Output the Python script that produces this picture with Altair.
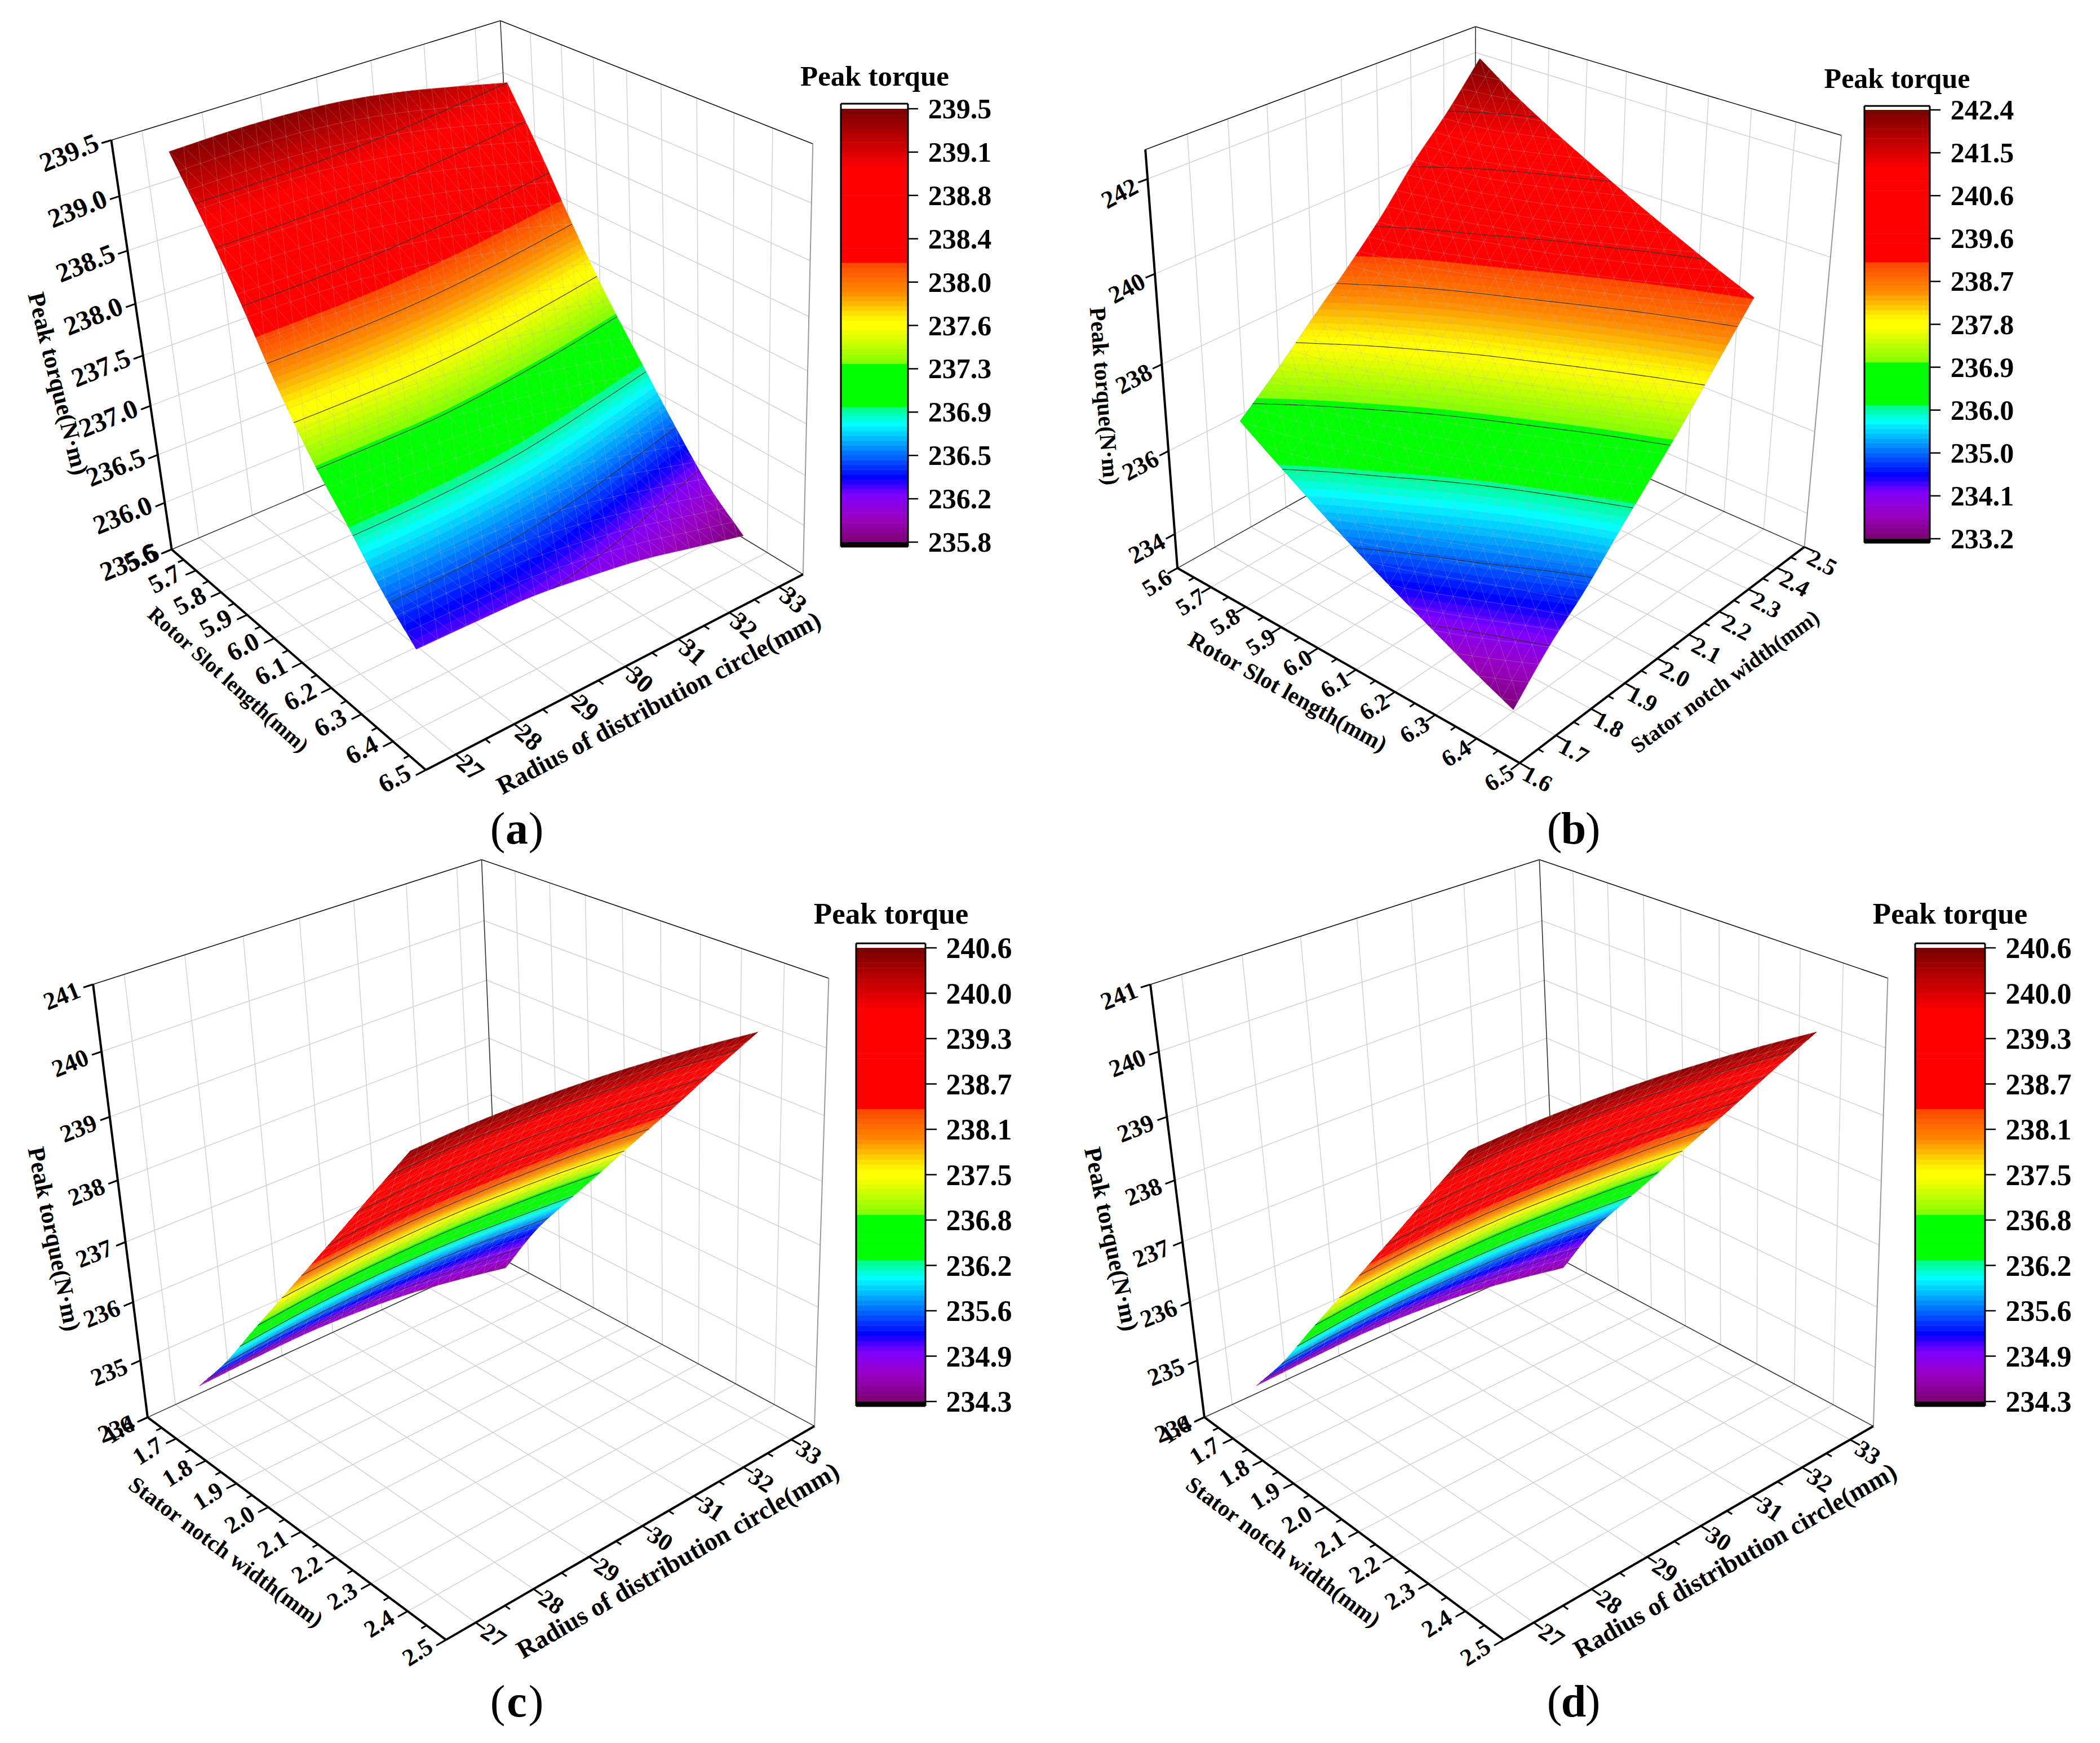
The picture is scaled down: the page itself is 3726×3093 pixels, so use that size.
import numpy as np
import pandas as pd
import altair as alt

alt.data_transformers.disable_max_rows()

# ---------- values ----------
U_SLOT = [5.7, 5.8, 5.9, 6.0, 6.1, 6.2, 6.3, 6.4]
U_NOTCH = [1.7, 1.8, 1.9, 2.0, 2.1, 2.2, 2.3, 2.4]
V_RADIUS = [27, 28, 29, 30, 31, 32, 33]
V_NOTCH = [1.7, 1.8, 1.9, 2.0, 2.1, 2.2, 2.3, 2.4]

Z_A = [
    [239.45, 239.46, 239.45, 239.41, 239.33, 239.22, 239.10],
    [238.98, 238.98, 238.96, 238.90, 238.81, 238.69, 238.56],
    [238.46, 238.45, 238.42, 238.35, 238.25, 238.12, 237.98],
    [237.88, 237.88, 237.86, 237.80, 237.70, 237.58, 237.45],
    [237.38, 237.38, 237.37, 237.31, 237.22, 237.11, 236.98],
    [236.99, 236.98, 236.95, 236.89, 236.79, 236.66, 236.52],
    [236.58, 236.57, 236.54, 236.47, 236.37, 236.24, 236.10],
    [236.25, 236.24, 236.22, 236.15, 236.06, 235.93, 235.80],
]
Z_B = [
    [236.65, 237.37, 238.15, 238.92, 239.74, 240.68, 241.48, 242.40],
    [236.08, 236.81, 237.57, 238.35, 239.16, 240.07, 240.88, 241.80],
    [235.53, 236.30, 237.05, 237.84, 238.65, 239.56, 240.38, 241.29],
    [235.01, 235.81, 236.55, 237.35, 238.17, 239.07, 239.90, 240.82],
    [234.52, 235.33, 236.09, 236.90, 237.73, 238.60, 239.48, 240.37],
    [234.06, 234.90, 235.64, 236.48, 237.29, 238.16, 239.03, 239.94],
    [233.61, 234.49, 235.22, 236.06, 236.88, 237.74, 238.63, 239.53],
    [233.20, 234.10, 234.82, 235.68, 236.50, 237.34, 238.25, 239.15],
]
# (c) and (d): colour value of each node, and the height at which the node is seen
Z_C = [
    [234.58, 234.60, 234.61, 234.61, 234.59, 234.54, 234.50],
    [235.63, 235.60, 235.57, 235.53, 235.46, 235.37, 235.28],
    [236.60, 236.54, 236.48, 236.41, 236.31, 236.19, 236.07],
    [237.42, 237.36, 237.29, 237.21, 237.10, 236.98, 236.85],
    [238.30, 238.26, 238.21, 238.15, 238.06, 237.96, 237.85],
    [238.95, 238.92, 238.89, 238.84, 238.77, 238.68, 238.59],
    [239.70, 239.70, 239.69, 239.67, 239.63, 239.56, 239.50],
    [240.47, 240.49, 240.51, 240.51, 240.50, 240.46, 240.41],
]
H_C = [
    [234.70, 234.74, 234.76, 234.72, 234.63, 234.48, 234.30],
    [235.44, 235.52, 235.56, 235.56, 235.51, 235.42, 235.30],
    [236.29, 236.36, 236.39, 236.38, 236.33, 236.23, 236.12],
    [237.13, 237.19, 237.21, 237.20, 237.13, 237.04, 236.92],
    [237.97, 238.02, 238.03, 238.00, 237.94, 237.85, 237.73],
    [238.81, 238.86, 238.85, 238.82, 238.74, 238.65, 238.53],
    [239.66, 239.70, 239.68, 239.64, 239.56, 239.46, 239.35],
    [240.50, 240.52, 240.50, 240.45, 240.37, 240.27, 240.15],
]
BAR_A = [239.5, 239.1, 238.8, 238.4, 238.0, 237.6, 237.3, 236.9, 236.5, 236.2, 235.8]
BAR_B = [242.4, 241.5, 240.6, 239.6, 238.7, 237.8, 236.9, 236.0, 235.0, 234.1, 233.2]
BAR_C = [240.6, 240.0, 239.3, 238.7, 238.1, 237.5, 236.8, 236.2, 235.6, 234.9, 234.3]

TICKS_SLOT = [5.6, 5.7, 5.8, 5.9, 6.0, 6.1, 6.2, 6.3, 6.4, 6.5]
TICKS_NOTCH = [1.6, 1.7, 1.8, 1.9, 2.0, 2.1, 2.2, 2.3, 2.4, 2.5]
TICKS_RADIUS = [27, 28, 29, 30, 31, 32, 33]
TICKS_Z_A = [235.5, 236.0, 236.5, 237.0, 237.5, 238.0, 238.5, 239.0, 239.5]
TICKS_Z_B = [234, 236, 238, 240, 242]
TICKS_Z_C = [234, 235, 236, 237, 238, 239, 240, 241]

# colour map of the colour bars: position 0..1 along the bar -> colour
PALETTE_POS = [0, .055, .11, .148, .272, .311, .312, .41, .411, .493, .51, .575, .639, .64, .86, 1]
PALETTE_COL = ["#7b0073", "#9a00c0", "#7f00ff", "#0000ff", "#00ffff", "#00ff80", "#00ff00", "#00ff00",
               "#80ff00", "#ffff00", "#ffff00", "#ff8c00", "#ff4a00", "#ff0000", "#ff0000", "#780000"]
N_LEVELS = 90

# ---------- layout ----------
W, H = 3710, 3077
FONT = "Liberation Serif"
PANELS = [
    dict(tag="a", corners=dict(LB=(304, 974), FB=(756, 1366), RB=(1425, 1019), BB=(923, 714), LT=(198, 251), BT=(888, 36), RT=(1442, 255)),
         seen=[((298, 260), 0, 0), ((899, 150), 0, -1), ((739, 1157), -1, 0), ((1317, 950), -1, -1)],
         ur=(5.6, 6.5), vr=(26.5, 33.5), zr=(235.5, 239.5), un=U_SLOT, vn=V_RADIUS, Z=Z_A, Hgt=Z_A, bar=BAR_A,
         ut=TICKS_SLOT, vt=TICKS_RADIUS, zt=TICKS_Z_A, zfmt="{:.1f}", ufmt="{:.1f}", vfmt="{:d}",
         uminor=.05, vminor=.5,
         zoff=(-74, 24, -22), uoff=(-55, 16, -28), voff=(25, 24, 40), tick=46, ztick=48,
         utitle=("Rotor Slot length(mm)", 404, 1207, 41.7, 38),
         vtitle=("Radius of distribution circle(mm)", 1169, 1248, -27.9, 45),
         ztitle=("Peak torque(N·m)", 102, 681, 76, 43),
         box=(1492, 1611, 184, 193, 962, 970, 1629, 1647), title=(1552, 137, 51), barfont=50, letter=(917, 1473)),
    dict(tag="b", corners=dict(LB=(2087.5, 1012), FB=(2697, 1354), RB=(3199, 976), BB=(2619, 708), LT=(2033, 265), BT=(2616, 50), RT=(3269, 239)),
         seen=[((2200, 748), 0, 0), ((2625, 100), 0, -1), ((2687, 1242), -1, 0), ((3112, 524), -1, -1)],
         ur=(5.6, 6.5), vr=(1.6, 2.5), zr=(233.15, 242.6), un=U_SLOT, vn=V_NOTCH, Z=Z_B, Hgt=Z_B, bar=BAR_B,
         ut=TICKS_SLOT, vt=TICKS_NOTCH, zt=TICKS_Z_B, zfmt="{:d}", ufmt="{:.1f}", vfmt="{:.1f}",
         uminor=.05, vminor=.05,
         zoff=(-49, 27, -28), uoff=(-36, 27, -32), voff=(31, 29, 28), tick=42, ztick=44,
         utitle=("Rotor Slot length(mm)", 2284, 1229, 29, 41),
         vtitle=("Stator notch width(mm)", 3061, 1210, -36, 39),
         ztitle=("Peak torque(N·m)", 1958, 703, 85.5, 41),
         box=(3308, 3424, 188, 195, 956, 963, 3443, 3461), title=(3366, 141, 50), barfont=50, letter=(2792, 1473)),
    dict(tag="c", corners=dict(LB=(264, 2520), FB=(791, 2907), RB=(1446, 2535), BB=(880, 2224), LT=(163, 1747), BT=(857, 1527), RT=(1470, 1737)),
         seen=[((356, 2458), 0, 0), ((902, 2250), 0, -1), ((727, 2028), -1, 0), ((1344, 1830), -1, -1)],
         ur=(1.6, 2.5), vr=(26.5, 33.5), zr=(234, 241), un=U_NOTCH, vn=V_RADIUS, Z=Z_C, Hgt=H_C, bar=BAR_C,
         ut=TICKS_NOTCH, vt=TICKS_RADIUS, zt=TICKS_Z_C, zfmt="{:d}", ufmt="{:.1f}", vfmt="{:d}",
         uminor=.05, vminor=.5,
         zoff=(-55, 22, -22), uoff=(-50, 23, -32), voff=(31, 24, 33), tick=43, ztick=44,
         utitle=("Stator notch width(mm)", 400, 2755, 36.6, 40.5),
         vtitle=("Radius of distribution circle(mm)", 1203, 2770, -29.9, 45.6),
         ztitle=("Peak torque(N·m)", 95, 2199, 78.5, 43),
         box=(1519, 1642, 1674, 1682, 2487, 2495, 1662, 1681), title=(1581, 1623, 53), barfont=52, letter=(917, 3022)),
    dict(tag="d", corners=dict(LB=(2139, 2520), FB=(2668, 2907), RB=(3325, 2535), BB=(2756, 2224), LT=(2039, 1747), BT=(2734, 1527), RT=(3349, 1737)),
         seen=[((2232, 2458), 0, 0), ((2778, 2250), 0, -1), ((2603, 2028), -1, 0), ((3223, 1830), -1, -1)],
         ur=(1.6, 2.5), vr=(26.5, 33.5), zr=(234, 241), un=U_NOTCH, vn=V_RADIUS, Z=Z_C, Hgt=H_C, bar=BAR_C,
         ut=TICKS_NOTCH, vt=TICKS_RADIUS, zt=TICKS_Z_C, zfmt="{:d}", ufmt="{:.1f}", vfmt="{:d}",
         uminor=.05, vminor=.5,
         zoff=(-55, 22, -22), uoff=(-50, 23, -32), voff=(31, 24, 33), tick=43, ztick=44,
         utitle=("Stator notch width(mm)", 2276, 2755, 36.6, 40.5),
         vtitle=("Radius of distribution circle(mm)", 3079, 2770, -29.7, 45.6),
         ztitle=("Peak torque(N·m)", 1971, 2199, 78, 43),
         box=(3398, 3522, 1674, 1682, 2487, 2495, 3541, 3561), title=(3460, 1623, 53), barfont=52, letter=(2792, 3022)),
]

# ---------- helpers ----------
CORNER_BOX = dict(LB=(0, 0, 0), FB=(1, 0, 0), RB=(1, 1, 0), BB=(0, 1, 0), LT=(0, 0, 1), BT=(0, 1, 1), RT=(1, 1, 1))


def fit_camera(points):
    rows = []
    for (X, Y, Z), (x, y), wt in points:
        x, y = x / 1000, y / 1000
        rows.append([wt * q for q in [X, Y, Z, 1, 0, 0, 0, 0, -x * X, -x * Y, -x * Z, -x]])
        rows.append([wt * q for q in [0, 0, 0, 0, X, Y, Z, 1, -y * X, -y * Y, -y * Z, -y]])
    return np.linalg.svd(np.array(rows))[2][-1].reshape(3, 4)


def proj(P, X, Y, Z):
    X, Y, Z = np.broadcast_arrays(np.asarray(X, float), np.asarray(Y, float), np.asarray(Z, float))
    h = np.stack([X, Y, Z, np.ones_like(X)], axis=-1) @ P.T
    return h[..., 0] / h[..., 2] * 1000, h[..., 1] / h[..., 2] * 1000


def cubic(table, n, axis):
    """Smooth drawing of a table between its nodes (Catmull-Rom)."""
    a = np.moveaxis(np.asarray(table, float), axis, 0)
    k = a.shape[0]
    g = np.concatenate([[2 * a[0] - a[1]], a, [2 * a[-1] - a[-2]]])
    t = np.linspace(0, k - 1, n + 1)
    i = np.minimum(t.astype(int), k - 2)
    s = (t - i)[(...,) + (None,) * (a.ndim - 1)]
    p0, p1, p2, p3 = g[i], g[i + 1], g[i + 2], g[i + 3]
    r = .5 * (2 * p1 + (p2 - p0) * s + (2 * p0 - 5 * p1 + 4 * p2 - p3) * s ** 2 + (3 * p1 - p0 - 3 * p2 + p3) * s ** 3)
    return np.moveaxis(r, 0, axis)


def palette(f):
    cols = np.array([[int(c[i:i + 2], 16) for i in (1, 3, 5)] for c in PALETTE_COL], float)
    rgb = [np.interp(f, PALETTE_POS, cols[:, i]) for i in range(3)]
    return "#%02x%02x%02x" % tuple(int(round(v)) for v in rgb)


def clip(poly, lo, hi):
    """poly = list of (x, y, z); keep the part with lo <= z <= hi."""
    for bound, sign in ((lo, 1), (hi, -1)):
        out = []
        n = len(poly)
        for i in range(n):
            a, b = poly[i], poly[(i + 1) % n]
            da, db = sign * (a[2] - bound), sign * (b[2] - bound)
            if da >= 0:
                out.append(a)
            if (da >= 0) != (db >= 0):
                t = da / (da - db)
                out.append((a[0] + t * (b[0] - a[0]), a[1] + t * (b[1] - a[1]), a[2] + t * (b[2] - a[2])))
        poly = out
        if not poly:
            break
    return poly


def pt(x, y):
    return [round(float(x) - 8, 1), round(float(y) - 8, 1)]


rules_back, rules_front, rects, bold, regular, surf_feats, line_feats, mesh_feats = [], [], [], [], [], [], [], []


def rule(store, a, b, color, w):
    store.append(dict(x=float(a[0]), y=float(a[1]), x2=float(b[0]), y2=float(b[1]), c=color, w=w))


for p in PANELS:
    c = p["corners"]
    u0, u1 = p["ur"]
    v0, v1 = p["vr"]
    z0, z1 = p["zr"]
    fu = lambda u: (np.asarray(u, float) - u0) / (u1 - u0)
    fv = lambda v: (np.asarray(v, float) - v0) / (v1 - v0)
    fz = lambda z: (np.asarray(z, float) - z0) / (z1 - z0)
    # camera: box corners plus the surface corners seen in the picture
    pts = [(CORNER_BOX[k], xy, 2.0) for k, xy in c.items()]
    for xy, iu, iv in p["seen"]:
        pts.append(((float(fu(p["un"][iu])), float(fv(p["vn"][iv])), float(fz(p["Hgt"][iu][iv]))), xy, 1.0))
    P = fit_camera(pts)
    GRID, AX = "#d2d2d2", "#000000"

    # walls and floor
    for u in p["ut"]:
        if u0 < u < u1:
            rule(rules_back, proj(P, fu(u), 1, 0), proj(P, fu(u), 1, 1), GRID, 1.5)
            rule(rules_back, proj(P, fu(u), 0, 0), proj(P, fu(u), 1, 0), GRID, 1.5)
    for v in p["vt"]:
        if v0 < v < v1:
            rule(rules_back, proj(P, 0, fv(v), 0), proj(P, 0, fv(v), 1), GRID, 1.5)
            rule(rules_back, proj(P, 0, fv(v), 0), proj(P, 1, fv(v), 0), GRID, 1.5)
    for z in p["zt"]:
        if z0 < z < z1:
            rule(rules_back, proj(P, 0, 0, fz(z)), proj(P, 0, 1, fz(z)), GRID, 1.5)
            rule(rules_back, proj(P, 0, 1, fz(z)), proj(P, 1, 1, fz(z)), GRID, 1.5)
    for a, b, col, w in (((0, 0, 1), (0, 1, 1), "#111111", 1.6), ((0, 1, 1), (1, 1, 1), "#111111", 1.6), ((0, 1, 1), (0, 1, 0), "#333333", 1.6),
                         ((1, 1, 1), (1, 1, 0), "#999999", 2), ((0, 0, 0), (0, 1, 0), "#333333", 1.6), ((0, 1, 0), (1, 1, 0), "#333333", 1.6)):
        rule(rules_back, proj(P, *a), proj(P, *b), col, w)

    # surface
    fine = cubic(cubic(p["Z"], 200, 0), 200, 1)
    height = cubic(cubic(p["Hgt"], 200, 0), 200, 1)
    ss = np.linspace(fu(p["un"][0]), fu(p["un"][-1]), 201)
    ww = np.linspace(fv(p["vn"][0]), fv(p["vn"][-1]), 201)
    S, WW = np.meshgrid(ss, ww, indexing="ij")
    px, py = proj(P, S, WW, fz(height))
    zlo, zhi = p["bar"][-1], p["bar"][0]
    step = 5
    bands = {k: [] for k in range(N_LEVELS)}
    contour_levels = p["bar"][1:-1]
    segs = []
    for i in range(0, 200, step):
        for j in range(0, 200, step):
            q = [(px[a, b], py[a, b], fine[a, b]) for a, b in ((i, j), (i + step, j), (i + step, j + step), (i, j + step))]
            for tri in ((q[0], q[1], q[2]), (q[0], q[2], q[3])):
                zs = [t[2] for t in tri]
                k0 = int(np.clip((min(zs) - zlo) / (zhi - zlo) * N_LEVELS, 0, N_LEVELS - 1))
                k1 = int(np.clip((max(zs) - zlo) / (zhi - zlo) * N_LEVELS, 0, N_LEVELS - 1))
                for k in range(k0, k1 + 1):
                    lo = -1e9 if k == 0 else zlo + (zhi - zlo) * k / N_LEVELS
                    hi = 1e9 if k == N_LEVELS - 1 else zlo + (zhi - zlo) * (k + 1) / N_LEVELS
                    part = list(tri) if k0 == k1 else clip(list(tri), lo, hi)
                    if len(part) >= 3:
                        ring = [pt(t[0], t[1]) for t in part]
                        ring.append(ring[0])
                        bands[k].append([ring])
                for lev in contour_levels:
                    if min(zs) < lev <= max(zs):
                        cross = []
                        for a, b in ((0, 1), (1, 2), (2, 0)):
                            if (zs[a] < lev) != (zs[b] < lev):
                                t = (lev - zs[a]) / (zs[b] - zs[a])
                                cross.append(pt(tri[a][0] + t * (tri[b][0] - tri[a][0]), tri[a][1] + t * (tri[b][1] - tri[a][1])))
                        if len(cross) == 2:
                            segs.append(cross)
    for k, polys in bands.items():
        if polys:
            col = palette((k + .5) / N_LEVELS)
            surf_feats.append(dict(type="Feature", geometry=dict(type="MultiPolygon", coordinates=polys), properties=dict(c=col)))
    line_feats.append(dict(type="Feature", geometry=dict(type="MultiLineString", coordinates=segs), properties=dict(c="#303030")))

    # triangular mesh of the surface
    mesh = []
    NM = 25
    st = 200 // NM
    half = st // 2
    node = lambda i, pos: pt(px[i * st, pos], py[i * st, pos])
    for i in range(NM + 1):
        off = half if i % 2 else 0
        mesh.append([node(i, j) for j in range(0, 201, st)])
        if i < NM:
            for j in range(0, 201, st):
                a = j + off
                if a > 200:
                    continue
                for d in (-half, half):
                    b = a + d
                    if 0 <= b <= 200:
                        mesh.append([node(i, a), node(i + 1, b)])
    mesh_feats.append(dict(type="Feature", geometry=dict(type="MultiLineString", coordinates=mesh), properties=dict(c="#9a9a9a")))

    # axes
    for a, b in (((0, 0, 0), (0, 0, 1)), ((0, 0, 0), (1, 0, 0)), ((1, 0, 0), (1, 1, 0))):
        rule(rules_front, proj(P, *a), proj(P, *b), AX, 4)

    def ticked(base, other, length, w=3):
        bx, by = base
        ox, oy = other
        dx, dy = ox - bx, oy - by
        n = np.hypot(dx, dy)
        rule(rules_front, (bx, by), (bx + dx / n * length, by + dy / n * length), AX, w)

    for u in p["ut"]:
        X = fu(u)
        ticked(proj(P, X, 0, 0), proj(P, X, -.05, 0), 20)
        a = proj(P, X, 0, 0)
        bold.append(dict(x=float(a[0]) + p["uoff"][0], y=float(a[1]) + p["uoff"][1], t=p["ufmt"].format(u), a=p["uoff"][2] % 360, s=p["tick"]))
        m = u + p["uminor"]
        if m < u1:
            ticked(proj(P, fu(m), 0, 0), proj(P, fu(m), -.05, 0), 11)
    for v in p["vt"]:
        Y = fv(v)
        ticked(proj(P, 1, Y, 0), proj(P, 1.05, Y, 0), 20)
        a = proj(P, 1, Y, 0)
        bold.append(dict(x=float(a[0]) + p["voff"][0], y=float(a[1]) + p["voff"][1], t=p["vfmt"].format(v), a=p["voff"][2] % 360, s=p["tick"]))
    vm = [x + p["vminor"] for x in p["vt"]] + [p["vt"][0] - p["vminor"]]
    for m in vm:
        if v0 < m < v1:
            ticked(proj(P, 1, fv(m), 0), proj(P, 1.05, fv(m), 0), 11)
    for z in p["zt"]:
        Zf = fz(z)
        ticked(proj(P, 0, 0, Zf), proj(P, 0, -.05, Zf), 18)
        a = proj(P, 0, 0, Zf)
        bold.append(dict(x=float(a[0]) + p["zoff"][0], y=float(a[1]) + p["zoff"][1], t=p["zfmt"].format(z), a=p["zoff"][2] % 360, s=p["ztick"]))
    for tt in (p["utitle"], p["vtitle"], p["ztitle"]):
        bold.append(dict(x=tt[1], y=tt[2], t=tt[0], a=tt[3] % 360, s=tt[4]))

    # colour bar
    x0, x1, ytop, ytick0, ytick1, ybot, xt, xl = p["box"]
    rects.append(dict(x=x0, x2=x1, y=ytick1, y2=ybot, c="#000000"))
    ln = (ytick1 - ytick0) / N_LEVELS
    for k in range(N_LEVELS):
        rects.append(dict(x=x0, x2=x1, y=ytick1 - k * ln, y2=ytick1 - (k + 1) * ln - (.6 if k < N_LEVELS - 1 else 0), c=palette((k + .5) / N_LEVELS)))
    for a, b in (((x0, ytop), (x1, ytop)), ((x0, ybot), (x1, ybot)), ((x0, ytop), (x0, ybot)), ((x1, ytop), (x1, ybot))):
        rule(rules_front, a, b, AX, 3)
    nb = len(p["bar"])
    for i, val in enumerate(p["bar"]):
        y = ytick0 + (ytick1 - ytick0) * i / (nb - 1)
        rule(rules_front, (x1, y), (xt, y), AX, 2.5)
        bold.append(dict(x=xl + 56, y=y + 2, t=f"{val:.1f}", a=0, s=p["barfont"]))
    bold.append(dict(x=p["title"][0], y=p["title"][1], t="Peak torque", a=0, s=p["title"][2]))

    # panel letter
    lx, ly = p["letter"]
    bold.append(dict(x=lx, y=ly, t=p["tag"], a=0, s=80))
    regular.append(dict(x=lx - 34, y=ly, t="(", a=0, s=80))
    regular.append(dict(x=lx + 34, y=ly, t=")", a=0, s=80))

# ---------- chart ----------
XS = alt.Scale(domain=[8, 8 + W], nice=False, zero=False)
YS = alt.Scale(domain=[8 + H, 8], nice=False, zero=False)


def rule_layer(rows):
    return alt.Chart(pd.DataFrame(rows)).mark_rule().encode(
        x=alt.X("x:Q", scale=XS, axis=None), x2="x2:Q",
        y=alt.Y("y:Q", scale=YS, axis=None), y2="y2:Q",
        stroke=alt.Stroke("c:N", scale=None, legend=None),
        strokeWidth=alt.StrokeWidth("w:Q", scale=None, legend=None))


def text_layer(rows, weight):
    return alt.Chart(pd.DataFrame(rows)).mark_text(font=FONT, fontWeight=weight, align="center", baseline="middle", color="#000000").encode(
        x=alt.X("x:Q", scale=XS, axis=None),
        y=alt.Y("y:Q", scale=YS, axis=None),
        text="t:N",
        angle=alt.Angle("a:Q", scale=None),
        size=alt.Size("s:Q", scale=None, legend=None))


IDENTITY = dict(type="identity", scale=1, translate=[0, 0])
surface = alt.Chart(alt.Data(values=surf_feats)).mark_geoshape(strokeWidth=.7).encode(
    fill=alt.Fill("properties.c:N", scale=None, legend=None),
    stroke=alt.Stroke("properties.c:N", scale=None, legend=None)).project(**IDENTITY)
mesh_layer = alt.Chart(alt.Data(values=mesh_feats)).mark_geoshape(filled=False, stroke="#b4b4b4", strokeWidth=1, strokeOpacity=.33).project(**IDENTITY)
contours = alt.Chart(alt.Data(values=line_feats)).mark_geoshape(filled=False, stroke="#303030", strokeWidth=1.1).project(**IDENTITY)
bar_rects = alt.Chart(pd.DataFrame(rects)).mark_rect().encode(
    x=alt.X("x:Q", scale=XS, axis=None), x2="x2:Q",
    y=alt.Y("y:Q", scale=YS, axis=None), y2="y2:Q",
    fill=alt.Fill("c:N", scale=None, legend=None))

chart = alt.layer(
    rule_layer(rules_back), surface, mesh_layer, contours, bar_rects, rule_layer(rules_front),
    text_layer(bold, "bold"), text_layer(regular, "normal"),
).properties(width=W, height=H, padding=0, autosize=alt.AutoSizeParams(type="none"), background="#ffffff"
).configure_view(stroke=None)

chart.save("out.html", embed_options={"renderer": "svg", "actions": False})
